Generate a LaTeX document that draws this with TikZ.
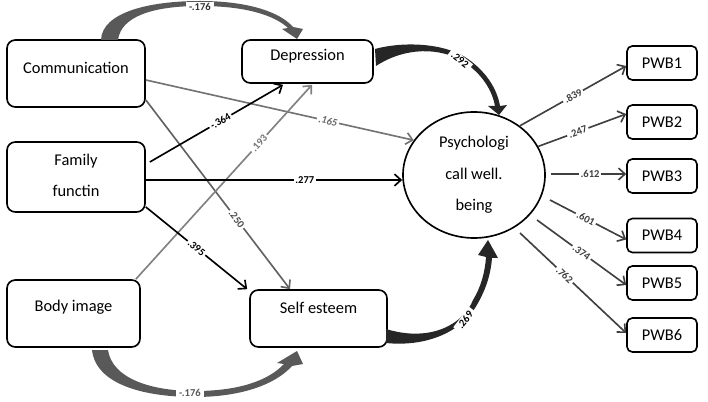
\documentclass[tikz,border=0pt]{standalone}
\usepackage{fontspec}
\setmainfont{Carlito}
\usetikzlibrary{arrows.meta,shapes.geometric,calc}
\begin{document}
\begin{tikzpicture}[x=0.03cm,y=-0.03cm,
  box/.style={draw, line width=1.4pt, rounded corners=0.25cm, inner sep=0pt},
  pwbbox/.style={draw, line width=1.4pt, rounded corners=0.16cm, minimum width=2.1cm, minimum height=1.02cm, inner sep=0pt, font=\fontsize{14}{17}\selectfont},
  txt/.style={font=\fontsize{14}{17}\selectfont, align=center},
  conn/.style={line width=1.4pt, -{Straight Barb[length=5.5pt,width=10pt]}},
  pconn/.style={conn, black!75},
  lab/.style={font=\fontsize{9}{10}\selectfont\bfseries, fill=white, inner sep=1.5pt, sloped},
  blab/.style={font=\fontsize{9}{10}\selectfont\bfseries, fill=white, inner xsep=3pt, inner ysep=1pt},
  lightblk/.style={fill=black!65, draw=none},
  darkblk/.style={fill=black!85, draw=none}
]
\useasboundingbox (0,0) rectangle (708,402);

% boxes
\node[box, minimum width=4.14cm, minimum height=2.01cm,
  label={[txt, yshift=0.165cm]center:Communication}] (comm) at (76,73.5) {};
\node[box, minimum width=4.14cm, minimum height=2.1cm,
  label={[txt, font=\fontsize{14}{26.4}\selectfont, yshift=0.045cm]center:Family\\functin}] (fam) at (76,177) {};
\node[box, minimum width=3.99cm, minimum height=2.01cm,
  label={[txt, yshift=0.195cm]center:Body image}] (body) at (73.5,313.5) {};
\node[box, minimum width=3.93cm, minimum height=1.29cm,
  label={[txt, yshift=0.165cm]center:Depression}] (dep) at (307.5,61.5) {};
\node[box, minimum width=4.11cm, minimum height=1.71cm,
  label={[txt, yshift=0.315cm]center:Self esteem}] (se) at (318.5,318.5) {};
\node[draw, ellipse, line width=1.4pt, minimum width=4.26cm, minimum height=3.78cm, inner sep=0pt,
  label={[txt, font=\fontsize{14}{27}\selectfont]center:Psychologi\\call well.\\being}] (psy) at (474,175) {};

\node[pwbbox] (p1) at (662,63) {PWB1};
\node[pwbbox] (p2) at (662,122) {PWB2};
\node[pwbbox] (p3) at (662,176) {PWB3};
\node[pwbbox] (p4) at (662,235.5) {PWB4};
\node[pwbbox] (p5) at (662,283) {PWB5};
\node[pwbbox] (p6) at (662,335) {PWB6};

% straight connectors
\draw[conn, black!55] ($(comm.east)+(0,6.5)$) -- node[lab, pos=0.68, text=black!60] {\itshape .165} (psy.150);
\draw[conn, black!62] ($(comm.east)+(0,26.5)$) -- node[lab, pos=0.63, text=black!70] {.250} ($(se.north)+(-28.5,0)$);
\draw[conn] ($(fam.east)+(4,-15)$) -- node[lab, pos=0.53] {-.364} ($(dep.south)+(-24.5,1)$);
\draw[conn, black!50] ($(body.north east)+(-5,0)$) -- node[lab, pos=0.7, text=black!55] {.193} ($(dep.south)+(4.5,1)$);
\draw[conn] ($(fam.east)+(0,3)$) -- node[lab, pos=0.62] {.277} ($(psy.west)+(0,5)$);
\draw[conn] ($(fam.east)+(0,30)$) -- node[lab, pos=0.5] {.395} ($(se.north west)+(-2,0)$);

\draw[pconn] (psy.47) -- node[lab, pos=0.5] {.839} ($(p1.west)+(0,3)$);
\draw[pconn] (psy.24) -- node[lab, pos=0.45] {.247} ($(p2.west)+(0,-8)$);
\draw[pconn] ($(psy.east)+(5,-1)$) -- node[lab, pos=0.52] {.612} ($(p3.west)+(0,-2)$);
\draw[pconn] ($(psy.center)+(76,25)$) -- node[lab, pos=0.47] {.601} ($(p4.west)+(0,4)$);
\draw[pconn] ($(psy.center)+(63,45)$) -- node[lab, pos=0.5] {.374} ($(p5.west)+(0,2)$);
\draw[pconn] ($(psy.center)+(46,58)$) -- node[lab, pos=0.42] {.762} ($(p6.west)+(0,-2)$);

% curved block arrows
% Communication -> Depression
\fill[lightblk] (101,40) .. controls (102,12) and (150,1) .. (200,1)
  .. controls (248,1) and (280,12) .. (293,27) -- (303,29) -- (297,39) -- (282,29) -- (288,28)
  .. controls (274,15) and (245,6) .. (200,6)
  .. controls (154,6) and (121,16) .. (118,40) -- cycle;
\node[blab, text=black!80] (l1) at (200,7) {-.176};

% Depression -> Psychological well-being
\fill[darkblk] (375,49) .. controls (400,42) and (440,42) .. (465,57)
  .. controls (485,70) and (497,88) .. (500,106) -- (507,105) -- (499,115) -- (488,106) -- (495,106)
  .. controls (492,90) and (482,74) .. (464,62)
  .. controls (440,47) and (405,47) .. (376,66) -- cycle;
\node[blab, rotate=-38] (l2) at (460,60) {.292};

% Self esteem -> Psychological well-being
\fill[darkblk] (386,343) .. controls (425,347) and (462,333) .. (478,303)
  .. controls (487,287) and (491,272) .. (492,258) -- (498,258) -- (488,240) -- (478,255) -- (486,257)
  .. controls (485,272) and (481,287) .. (473,300)
  .. controls (464,323) and (432,343) .. (386,329) -- cycle;
\node[blab, rotate=52] (l3) at (465,320) {.269};

% Body image -> Self esteem
\fill[lightblk] (92,350) .. controls (96,385) and (145,397) .. (195,397)
  .. controls (240,397) and (275,385) .. (292,366) -- (303,364) -- (297,351) -- (277,363) -- (284,364)
  .. controls (268,381) and (238,391) .. (195,391)
  .. controls (150,391) and (112,378) .. (108,350) -- cycle;
\node[blab, text=black!65] (l4) at (190,393) {-.176};
\end{tikzpicture}
\end{document}
